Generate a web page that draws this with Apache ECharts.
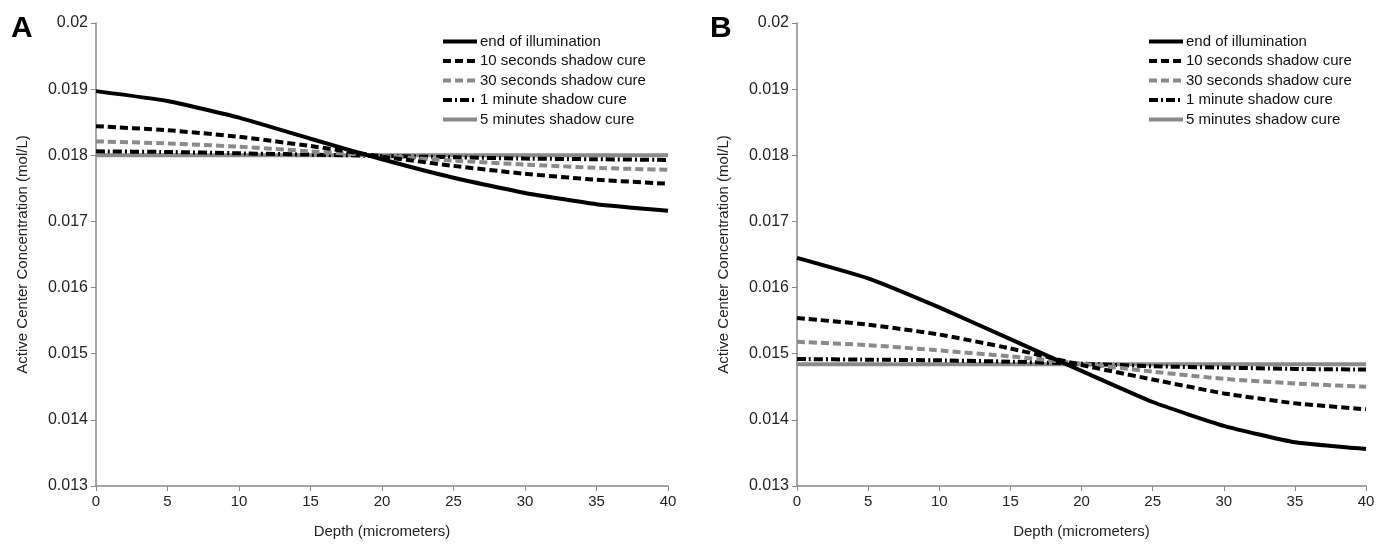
<!DOCTYPE html>
<html><head><meta charset="utf-8">
<script src="https://cdn.jsdelivr.net/npm/echarts@6/dist/echarts.min.js"></script>
<style>html,body{margin:0;padding:0;background:#fff}#c{width:1378px;height:544px}</style>
</head><body><div id="c"></div>
<script>
const depth = [0, 5, 10, 15, 20, 25, 30, 35, 40];
const seriesNames = ['end of illumination', '10 seconds shadow cure', '30 seconds shadow cure', '1 minute shadow cure', '5 minutes shadow cure'];
const yTicks = [0.013, 0.014, 0.015, 0.016, 0.017, 0.018, 0.019, 0.02];
// Panel A
const aEnd  = [0.01897, 0.01882, 0.01857, 0.01825, 0.01794, 0.01766, 0.01743, 0.01726, 0.01716];
const a10s  = [0.01844, 0.01838, 0.01828, 0.01814, 0.01798, 0.01784, 0.01772, 0.01763, 0.01757];
const a30s  = [0.01821, 0.01818, 0.01813, 0.01806, 0.01799, 0.01792, 0.01786, 0.01781, 0.01778];
const a1m   = [0.01806, 0.01805, 0.01803, 0.01801, 0.01799, 0.01797, 0.01795, 0.01794, 0.01793];
const a5m   = [0.01800, 0.01800, 0.01800, 0.01800, 0.01800, 0.01800, 0.01800, 0.01800, 0.01800];
// Panel B
const bEnd  = [0.01645, 0.01614, 0.01570, 0.01522, 0.01474, 0.01427, 0.01391, 0.01366, 0.01356];
const b10s  = [0.01554, 0.01544, 0.01529, 0.01508, 0.01483, 0.01461, 0.01440, 0.01425, 0.01416];
const b30s  = [0.01518, 0.01513, 0.01505, 0.01496, 0.01485, 0.01473, 0.01462, 0.01455, 0.01450];
const b1m   = [0.01492, 0.01491, 0.01490, 0.01488, 0.01485, 0.01481, 0.01479, 0.01477, 0.01476];
const b5m   = [0.01484, 0.01484, 0.01484, 0.01484, 0.01484, 0.01484, 0.01484, 0.01484, 0.01484];

const styles = [
  {color:'#000', width:4, type:'solid'},
  {color:'#000', width:4, type:[8,4]},
  {color:'#8a8a8a', width:4, type:[8,4]},
  {color:'#000', width:4, type:[9,3,2,3]},
  {color:'#8a8a8a', width:4, type:'solid'}
];
const font = 'Liberation Sans, Arial, sans-serif';
function pair(x, ys){ return x.map((d,i)=>[d, ys[i]]); }
const aData = [aEnd, a10s, a30s, a1m, a5m];
const bData = [bEnd, b10s, b30s, b1m, b5m];
const series = [];
[aData, bData].forEach((set, gi) => {
  set.forEach((ys, si) => {
    series.push({
      name: seriesNames[si], type:'line', xAxisIndex: gi, yAxisIndex: gi,
      data: pair(depth, ys), symbol:'none', smooth: 0.15, z: 10 - si,
      lineStyle: {color: styles[si].color, width: styles[si].width, type: styles[si].type},
      itemStyle: {color: styles[si].color}
    });
  });
});
function xAxis(gi){
  return {type:'value', gridIndex: gi, min:0, max:40, interval:5,
    name:'Depth (micrometers)', nameLocation:'middle', nameGap:38,
    nameTextStyle:{fontFamily:font, fontSize:15, color:'#222'},
    axisLine:{lineStyle:{color:'#888', width:1.5}},
    axisTick:{length:5, lineStyle:{color:'#888'}},
    axisLabel:{fontFamily:font, fontSize:15, color:'#222', margin:8},
    splitLine:{show:false}};
}
function yAxis(gi){
  return {type:'value', gridIndex: gi, min:0.013, max:0.02, interval:0.001,
    name:'Active Center Concentration (mol/L)', nameLocation:'middle', nameGap:66,
    nameTextStyle:{fontFamily:font, fontSize:15, color:'#222'},
    axisLine:{show:true, lineStyle:{color:'#888', width:1.5}},
    axisTick:{show:true, length:5, lineStyle:{color:'#888'}},
    axisLabel:{fontFamily:font, fontSize:16, color:'#222', margin:8, formatter: v => String(+v.toFixed(3))},
    splitLine:{show:false}};
}
function legend(left){
  return {orient:'vertical', left:left, top:29, itemWidth:34, itemHeight:14, itemGap:4.5,
    data: seriesNames, selectedMode:false,
    itemStyle:{opacity:0},
    lineStyle:{width:4},
    textStyle:{fontFamily:font, fontSize:15, color:'#111', padding:[0,0,0,-2]}};
}
const chart = echarts.init(document.getElementById('c'));
chart.setOption({
  animation:false,
  backgroundColor:'#fff',
  grid:[{left:96, right:710, top:23, bottom:57}, {left:797, right:12, top:23, bottom:57}],
  xAxis:[xAxis(0), xAxis(1)],
  yAxis:[yAxis(0), yAxis(1)],
  legend:[legend(436), legend(1142)],
  graphic:[
    {type:'text', left:11, top:14, style:{text:'A', font:'bold 30px '+font, fill:'#000'}},
    {type:'text', left:710, top:14, style:{text:'B', font:'bold 30px '+font, fill:'#000'}}
  ],
  series: series
});
</script></body></html>
